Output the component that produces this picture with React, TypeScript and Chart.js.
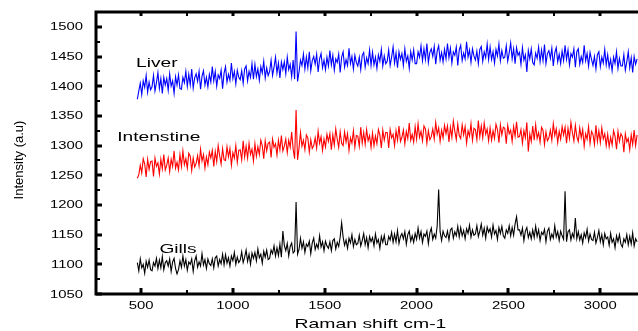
import React, { useEffect, useRef } from "react";
import { Chart, registerables } from "chart.js";

Chart.register(...registerables);

// Raman shift grid (cm-1): first point and spacing
const X_START = 480;
const X_STEP = 8;

const liver: number[] = [
  1378, 1392, 1405, 1386, 1409, 1398, 1418, 1390, 1407, 1394,
  1399, 1418, 1392, 1406, 1423, 1396, 1413, 1388, 1415, 1402,
  1413, 1393, 1421, 1400, 1409, 1388, 1416, 1402, 1419, 1396,
  1395, 1415, 1406, 1425, 1400, 1420, 1402, 1429, 1397, 1414,
  1421, 1408, 1425, 1395, 1417, 1426, 1402, 1415, 1399, 1420,
  1407, 1433, 1409, 1425, 1400, 1419, 1413, 1427, 1396, 1422,
  1433, 1407, 1420, 1410, 1439, 1413, 1425, 1404, 1427, 1415,
  1411, 1426, 1405, 1429, 1434, 1409, 1425, 1415, 1438, 1412,
  1437, 1416, 1429, 1410, 1433, 1422, 1442, 1414, 1431, 1418,
  1425, 1444, 1418, 1432, 1449, 1422, 1439, 1414, 1441, 1428,
  1441, 1421, 1449, 1428, 1437, 1416, 1444, 1412, 1492, 1408,
  1424, 1444, 1435, 1454, 1429, 1449, 1431, 1458, 1426, 1443,
  1450, 1437, 1454, 1424, 1446, 1455, 1431, 1444, 1428, 1449,
  1434, 1460, 1436, 1452, 1427, 1446, 1440, 1454, 1423, 1449,
  1458, 1432, 1445, 1435, 1464, 1438, 1450, 1429, 1452, 1440,
  1434, 1449, 1428, 1452, 1457, 1432, 1448, 1438, 1461, 1435,
  1457, 1436, 1449, 1430, 1453, 1442, 1462, 1434, 1451, 1438,
  1442, 1461, 1435, 1449, 1466, 1439, 1456, 1431, 1458, 1445,
  1455, 1435, 1463, 1442, 1451, 1430, 1458, 1444, 1461, 1438,
  1438, 1458, 1449, 1468, 1443, 1463, 1445, 1472, 1440, 1457,
  1463, 1450, 1467, 1437, 1459, 1468, 1444, 1457, 1441, 1462,
  1446, 1472, 1448, 1464, 1439, 1458, 1452, 1466, 1435, 1461,
  1469, 1443, 1456, 1446, 1475, 1449, 1461, 1440, 1463, 1451,
  1444, 1459, 1438, 1462, 1467, 1442, 1458, 1448, 1471, 1445,
  1466, 1445, 1458, 1439, 1462, 1451, 1471, 1443, 1460, 1447,
  1449, 1468, 1442, 1456, 1473, 1446, 1463, 1438, 1465, 1452,
  1457, 1437, 1465, 1444, 1453, 1424, 1460, 1446, 1463, 1440,
  1436, 1456, 1447, 1466, 1441, 1461, 1443, 1470, 1438, 1455,
  1460, 1447, 1464, 1434, 1456, 1465, 1441, 1454, 1438, 1459,
  1443, 1469, 1445, 1461, 1436, 1455, 1449, 1463, 1432, 1458,
  1463, 1437, 1450, 1440, 1469, 1443, 1455, 1434, 1457, 1445,
  1435, 1450, 1429, 1453, 1458, 1433, 1449, 1439, 1462, 1436,
  1453, 1432, 1445, 1426, 1449, 1438, 1458, 1430, 1447, 1434,
  1434, 1453, 1427, 1441, 1458, 1431, 1448, 1423, 1450, 1437,
  1446,
];

const intestine: number[] = [
  1245, 1251, 1267, 1254, 1278, 1269, 1247, 1277, 1260, 1273,
  1274, 1248, 1279, 1265, 1271, 1252, 1277, 1261, 1285, 1259,
  1267, 1279, 1256, 1277, 1265, 1291, 1262, 1272, 1259, 1285,
  1265, 1291, 1268, 1278, 1262, 1287, 1282, 1258, 1279, 1264,
  1270, 1283, 1266, 1294, 1274, 1285, 1262, 1281, 1268, 1289,
  1279, 1292, 1265, 1290, 1273, 1300, 1283, 1269, 1295, 1276,
  1275, 1298, 1281, 1295, 1267, 1288, 1279, 1300, 1272, 1292,
  1293, 1276, 1308, 1281, 1299, 1279, 1304, 1285, 1294, 1274,
  1303, 1282, 1298, 1285, 1309, 1300, 1278, 1308, 1291, 1304,
  1306, 1280, 1311, 1297, 1303, 1284, 1309, 1293, 1317, 1291,
  1299, 1311, 1288, 1309, 1297, 1323, 1294, 1278, 1360, 1276,
  1296, 1322, 1299, 1309, 1293, 1318, 1313, 1289, 1310, 1295,
  1300, 1313, 1296, 1324, 1304, 1315, 1292, 1311, 1298, 1319,
  1307, 1320, 1293, 1318, 1301, 1328, 1311, 1297, 1323, 1304,
  1300, 1323, 1306, 1320, 1292, 1313, 1304, 1325, 1297, 1317,
  1316, 1299, 1331, 1304, 1322, 1302, 1327, 1308, 1317, 1297,
  1321, 1300, 1316, 1303, 1327, 1318, 1296, 1326, 1309, 1322,
  1322, 1296, 1327, 1313, 1319, 1300, 1325, 1309, 1333, 1307,
  1314, 1326, 1303, 1324, 1312, 1338, 1309, 1319, 1306, 1332,
  1311, 1337, 1314, 1324, 1308, 1333, 1328, 1304, 1325, 1310,
  1315, 1328, 1311, 1339, 1319, 1330, 1307, 1326, 1313, 1334,
  1320, 1333, 1306, 1331, 1314, 1341, 1324, 1310, 1336, 1317,
  1312, 1335, 1318, 1332, 1304, 1325, 1316, 1337, 1309, 1329,
  1327, 1310, 1342, 1315, 1333, 1313, 1338, 1319, 1328, 1308,
  1330, 1309, 1325, 1312, 1336, 1327, 1305, 1335, 1318, 1331,
  1329, 1303, 1334, 1320, 1326, 1307, 1332, 1316, 1340, 1314,
  1315, 1327, 1304, 1325, 1313, 1339, 1290, 1320, 1307, 1333,
  1309, 1335, 1312, 1322, 1306, 1331, 1326, 1302, 1323, 1308,
  1313, 1326, 1309, 1337, 1317, 1328, 1305, 1324, 1311, 1332,
  1318, 1331, 1304, 1329, 1312, 1339, 1322, 1308, 1334, 1315,
  1307, 1330, 1313, 1327, 1299, 1320, 1311, 1332, 1304, 1324,
  1319, 1302, 1334, 1307, 1325, 1305, 1330, 1311, 1320, 1300,
  1319, 1298, 1314, 1301, 1325, 1316, 1294, 1324, 1307, 1320,
  1315, 1289, 1320, 1306, 1312, 1293, 1318, 1302, 1326, 1300,
  1318,
];

const gills: number[] = [
  1103, 1089, 1109, 1094, 1100, 1085, 1105, 1095, 1107, 1091,
  1089, 1103, 1097, 1110, 1093, 1107, 1094, 1113, 1091, 1103,
  1106, 1097, 1109, 1088, 1104, 1110, 1093, 1084, 1091, 1106,
  1095, 1114, 1097, 1108, 1090, 1104, 1100, 1109, 1088, 1106,
  1114, 1095, 1104, 1097, 1118, 1099, 1108, 1093, 1109, 1101,
  1098, 1109, 1094, 1111, 1114, 1097, 1108, 1101, 1117, 1099,
  1116, 1102, 1111, 1097, 1114, 1106, 1120, 1100, 1112, 1103,
  1107, 1121, 1103, 1112, 1124, 1105, 1117, 1100, 1119, 1110,
  1120, 1106, 1126, 1111, 1117, 1102, 1122, 1112, 1124, 1108,
  1110, 1124, 1118, 1131, 1114, 1128, 1115, 1134, 1112, 1156,
  1132, 1123, 1135, 1114, 1130, 1136, 1119, 1122, 1205, 1117,
  1125, 1144, 1127, 1138, 1120, 1134, 1130, 1139, 1118, 1136,
  1144, 1125, 1134, 1127, 1148, 1129, 1138, 1123, 1139, 1131,
  1127, 1138, 1123, 1140, 1143, 1126, 1137, 1130, 1146, 1170,
  1146, 1132, 1141, 1127, 1144, 1136, 1150, 1130, 1142, 1133,
  1135, 1149, 1131, 1140, 1152, 1133, 1145, 1128, 1147, 1138,
  1145, 1131, 1151, 1136, 1142, 1127, 1147, 1137, 1149, 1133,
  1133, 1147, 1141, 1154, 1137, 1151, 1138, 1157, 1135, 1147,
  1152, 1143, 1155, 1134, 1150, 1156, 1139, 1148, 1137, 1152,
  1142, 1161, 1144, 1155, 1137, 1151, 1147, 1156, 1135, 1153,
  1161, 1142, 1151, 1144, 1165, 1226, 1155, 1140, 1156, 1148,
  1145, 1156, 1141, 1158, 1161, 1144, 1155, 1148, 1164, 1146,
  1162, 1148, 1157, 1143, 1160, 1152, 1166, 1146, 1158, 1149,
  1151, 1165, 1147, 1156, 1168, 1149, 1161, 1144, 1163, 1154,
  1160, 1146, 1166, 1151, 1157, 1142, 1162, 1152, 1164, 1148,
  1144, 1158, 1152, 1165, 1148, 1162, 1149, 1168, 1180, 1158,
  1158, 1149, 1161, 1140, 1156, 1162, 1145, 1154, 1143, 1158,
  1145, 1164, 1147, 1158, 1140, 1154, 1150, 1159, 1138, 1156,
  1161, 1142, 1151, 1144, 1165, 1146, 1155, 1140, 1156, 1148,
  1142, 1223, 1138, 1155, 1158, 1141, 1152, 1145, 1178, 1143,
  1155, 1141, 1150, 1136, 1153, 1145, 1159, 1139, 1151, 1142,
  1140, 1154, 1136, 1145, 1157, 1138, 1150, 1133, 1152, 1143,
  1146, 1132, 1152, 1137, 1143, 1128, 1148, 1138, 1150, 1134,
  1129, 1143, 1137, 1150, 1133, 1147, 1134, 1153, 1131, 1143,
  1138,
];

const X_MAJOR = [500, 1000, 1500, 2000, 2500, 3000];
const X_MINOR = [750, 1250, 1750, 2250, 2750];
const Y_MAJOR = [1050, 1100, 1150, 1200, 1250, 1300, 1350, 1400, 1450, 1500];
const Y_MINOR = [1075, 1125, 1175, 1225, 1275, 1325, 1375, 1425, 1475];

const SERIES_NAMES = ["Liver", "Intenstine", "Gills"];
const SERIES_COLORS = ["#0000ff", "#ff0000", "#000000"];
// label anchors in data units (left x, baseline y)
const LABEL_X = [473, 370, 600];
const LABEL_Y = [1432.5, 1307.5, 1119.5];

const X_TITLE = "Raman shift cm-1";
const Y_TITLE = "Intensity (a.u)";
const FONT = '"Liberation Sans", Arial, sans-serif';

function toPoints(vals: number[]) {
  return vals.map((v, i) => ({ x: X_START + i * X_STEP, y: v }));
}

function stretchedText(
  ctx: CanvasRenderingContext2D,
  str: string,
  x: number,
  y: number,
  size: number,
  sx: number,
  align: CanvasTextAlign,
  baseline: CanvasTextBaseline
) {
  ctx.save();
  ctx.translate(x, y);
  ctx.scale(sx, 1);
  ctx.font = `${size}px ${FONT}`;
  ctx.textAlign = align;
  ctx.textBaseline = baseline;
  ctx.fillText(str, 0, 0);
  ctx.restore();
}

const axesPlugin = {
  id: "originAxes",
  afterDraw(chart: any) {
    const { ctx, chartArea: ca, scales } = chart;
    const xs = scales.x;
    const ys = scales.y;
    ctx.save();
    ctx.strokeStyle = "#000";
    ctx.fillStyle = "#000";
    ctx.lineCap = "butt";

    // axis lines
    ctx.lineWidth = 3;
    ctx.beginPath();
    ctx.moveTo(ca.left, ca.top - 1.5);
    ctx.lineTo(ca.left, ca.bottom + 1.5);
    ctx.moveTo(ca.left - 1.5, ca.bottom);
    ctx.lineTo(ca.right, ca.bottom);
    ctx.moveTo(ca.left - 1.5, ca.top);
    ctx.lineTo(ca.right, ca.top);
    ctx.stroke();

    // y ticks (inward)
    ctx.lineWidth = 3;
    for (const v of Y_MAJOR) {
      const p = Math.round(ys.getPixelForValue(v));
      ctx.beginPath();
      ctx.moveTo(ca.left, p);
      ctx.lineTo(ca.left + 6, p);
      ctx.stroke();
    }
    ctx.lineWidth = 2;
    for (const v of Y_MINOR) {
      const p = Math.round(ys.getPixelForValue(v));
      ctx.beginPath();
      ctx.moveTo(ca.left, p);
      ctx.lineTo(ca.left + 4, p);
      ctx.stroke();
    }

    // x ticks bottom and top
    ctx.lineWidth = 3;
    for (const v of X_MAJOR) {
      const p = Math.round(xs.getPixelForValue(v));
      ctx.beginPath();
      ctx.moveTo(p, ca.bottom);
      ctx.lineTo(p, ca.bottom - 6);
      ctx.moveTo(p, ca.top);
      ctx.lineTo(p, ca.top + 4);
      ctx.stroke();
    }
    ctx.lineWidth = 2;
    for (const v of X_MINOR) {
      const p = Math.round(xs.getPixelForValue(v));
      ctx.beginPath();
      ctx.moveTo(p, ca.bottom);
      ctx.lineTo(p, ca.bottom - 4);
      ctx.moveTo(p, ca.top);
      ctx.lineTo(p, ca.top + 4);
      ctx.stroke();
    }

    // tick labels
    for (const v of Y_MAJOR) {
      stretchedText(ctx, String(v), 83, ys.getPixelForValue(v) + 0.5, 11, 1.35, "right", "middle");
    }
    for (const v of X_MAJOR) {
      stretchedText(ctx, String(v), xs.getPixelForValue(v), 309, 11, 1.35, "center", "alphabetic");
    }

    // axis titles
    stretchedText(ctx, X_TITLE, 370.5, 328, 13, 1.49, "center", "alphabetic");
    ctx.save();
    ctx.translate(22.5, 160);
    ctx.rotate(-Math.PI / 2);
    ctx.font = `13px ${FONT}`;
    ctx.textAlign = "center";
    ctx.textBaseline = "alphabetic";
    ctx.fillText(Y_TITLE, 0, 0);
    ctx.restore();

    // series labels
    SERIES_NAMES.forEach((name, i) => {
      stretchedText(
        ctx,
        name,
        xs.getPixelForValue(LABEL_X[i]),
        ys.getPixelForValue(LABEL_Y[i]),
        12,
        1.6,
        "left",
        "alphabetic"
      );
    });
    ctx.restore();
  },
};

export default function App() {
  const canvasRef = useRef<HTMLCanvasElement | null>(null);

  useEffect(() => {
    document.body.style.margin = "0";
    const canvas = canvasRef.current;
    if (!canvas) return;
    const seriesData = [liver, intestine, gills];
    const chart = new Chart(canvas, {
      type: "line",
      data: {
        datasets: seriesData.map((vals, i) => ({
          label: SERIES_NAMES[i],
          data: toPoints(vals),
          borderColor: SERIES_COLORS[i],
          backgroundColor: SERIES_COLORS[i],
          borderWidth: 1.1,
          pointRadius: 0,
          tension: 0,
          fill: false,
        })),
      },
      options: {
        animation: false,
        responsive: false,
        devicePixelRatio: 1,
        layout: { padding: { left: 96, top: 12, right: 0, bottom: 37 } },
        plugins: { legend: { display: false }, tooltip: { enabled: false } },
        scales: {
          x: { type: "linear", min: 255, max: 3205, display: false },
          y: { type: "linear", min: 1050, max: 1525, display: false },
        },
      },
      plugins: [axesPlugin],
    });
    return () => chart.destroy();
  }, []);

  return (
    <div style={{ width: 638, height: 331, background: "#fff" }}>
      <canvas ref={canvasRef} width={638} height={331} />
    </div>
  );
}
